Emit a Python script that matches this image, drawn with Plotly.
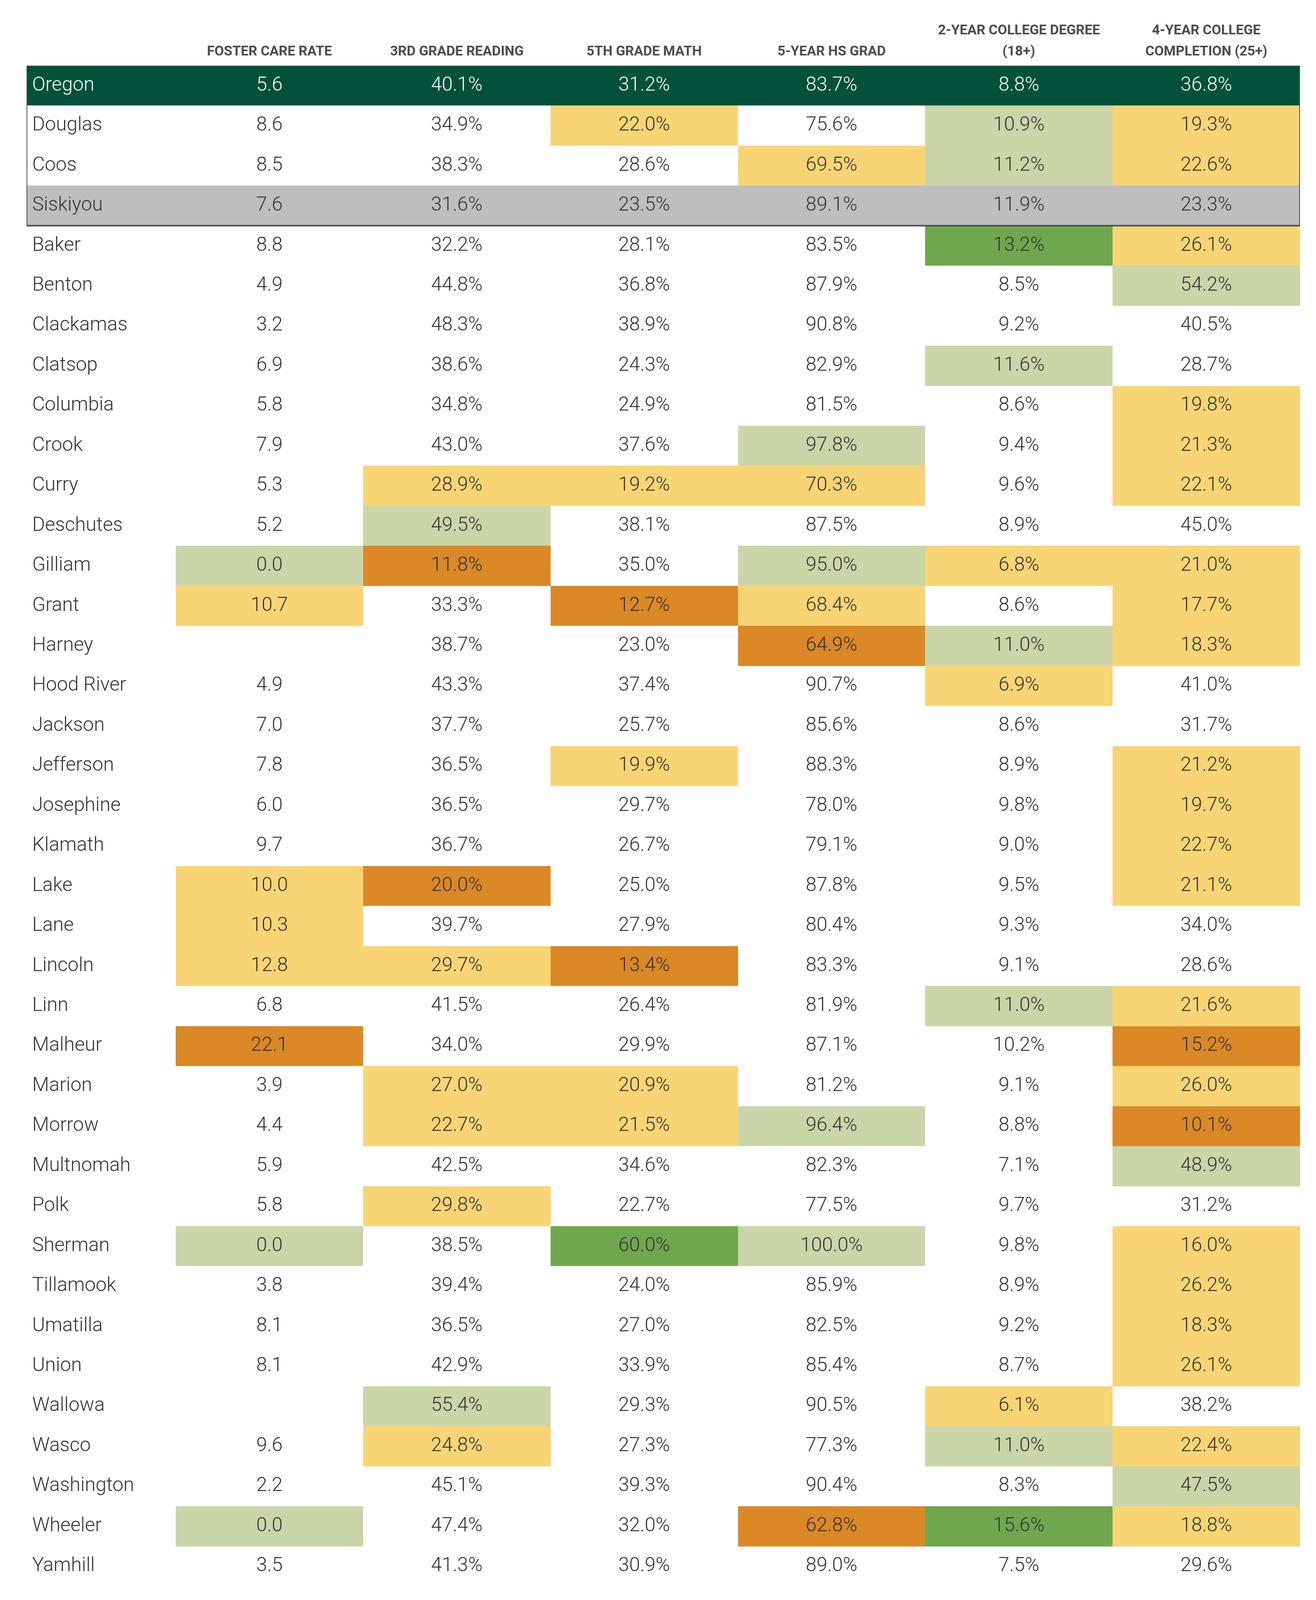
import plotly.graph_objects as go

# ---------------- data ----------------
counties = ["Oregon", "Douglas", "Coos", "Siskiyou", "Baker", "Benton", "Clackamas",
            "Clatsop", "Columbia", "Crook", "Curry", "Deschutes", "Gilliam", "Grant",
            "Harney", "Hood River", "Jackson", "Jefferson", "Josephine", "Klamath",
            "Lake", "Lane", "Lincoln", "Linn", "Malheur", "Marion", "Morrow",
            "Multnomah", "Polk", "Sherman", "Tillamook", "Umatilla", "Union",
            "Wallowa", "Wasco", "Washington", "Wheeler", "Yamhill"]

header_line1 = ["", "", "", "", "2-YEAR COLLEGE DEGREE", "4-YEAR COLLEGE"]
header_line2 = ["FOSTER CARE RATE", "3RD GRADE READING", "5TH GRADE MATH",
                "5-YEAR HS GRAD", "(18+)", "COMPLETION (25+)"]

foster = [5.6, 8.6, 8.5, 7.6, 8.8, 4.9, 3.2, 6.9, 5.8, 7.9, 5.3, 5.2, 0.0, 10.7,
          None, 4.9, 7.0, 7.8, 6.0, 9.7, 10.0, 10.3, 12.8, 6.8, 22.1, 3.9, 4.4,
          5.9, 5.8, 0.0, 3.8, 8.1, 8.1, None, 9.6, 2.2, 0.0, 3.5]
reading = [40.1, 34.9, 38.3, 31.6, 32.2, 44.8, 48.3, 38.6, 34.8, 43.0, 28.9, 49.5,
           11.8, 33.3, 38.7, 43.3, 37.7, 36.5, 36.5, 36.7, 20.0, 39.7, 29.7, 41.5,
           34.0, 27.0, 22.7, 42.5, 29.8, 38.5, 39.4, 36.5, 42.9, 55.4, 24.8, 45.1,
           47.4, 41.3]
math5 = [31.2, 22.0, 28.6, 23.5, 28.1, 36.8, 38.9, 24.3, 24.9, 37.6, 19.2, 38.1,
         35.0, 12.7, 23.0, 37.4, 25.7, 19.9, 29.7, 26.7, 25.0, 27.9, 13.4, 26.4,
         29.9, 20.9, 21.5, 34.6, 22.7, 60.0, 24.0, 27.0, 33.9, 29.3, 27.3, 39.3,
         32.0, 30.9]
hs_grad = [83.7, 75.6, 69.5, 89.1, 83.5, 87.9, 90.8, 82.9, 81.5, 97.8, 70.3, 87.5,
           95.0, 68.4, 64.9, 90.7, 85.6, 88.3, 78.0, 79.1, 87.8, 80.4, 83.3, 81.9,
           87.1, 81.2, 96.4, 82.3, 77.5, 100.0, 85.9, 82.5, 85.4, 90.5, 77.3, 90.4,
           62.8, 89.0]
two_year = [8.8, 10.9, 11.2, 11.9, 13.2, 8.5, 9.2, 11.6, 8.6, 9.4, 9.6, 8.9, 6.8,
            8.6, 11.0, 6.9, 8.6, 8.9, 9.8, 9.0, 9.5, 9.3, 9.1, 11.0, 10.2, 9.1, 8.8,
            7.1, 9.7, 9.8, 8.9, 9.2, 8.7, 6.1, 11.0, 8.3, 15.6, 7.5]
four_year = [36.8, 19.3, 22.6, 23.3, 26.1, 54.2, 40.5, 28.7, 19.8, 21.3, 22.1, 45.0,
             21.0, 17.7, 18.3, 41.0, 31.7, 21.2, 19.7, 22.7, 21.1, 34.0, 28.6, 21.6,
             15.2, 26.0, 10.1, 48.9, 31.2, 16.0, 26.2, 18.3, 26.1, 38.2, 22.4, 47.5,
             18.8, 29.6]

# cell shading classes: D state row, S peer row, W none, L light green,
# G green, Y yellow, O orange
foster_cls = ["D", "W", "W", "S",
              "W", "W", "W", "W", "W", "W", "W", "W", "L", "Y", "W", "W", "W",
              "W", "W", "W", "Y", "Y", "Y", "W", "O", "W", "W", "W", "W", "L",
              "W", "W", "W", "W", "W", "W", "L", "W"]
reading_cls = ["D", "W", "W", "S",
               "W", "W", "W", "W", "W", "W", "Y", "L", "O", "W", "W", "W", "W",
               "W", "W", "W", "O", "W", "Y", "W", "W", "Y", "Y", "W", "Y", "W",
               "W", "W", "W", "L", "Y", "W", "W", "W"]
math_cls = ["D", "Y", "W", "S",
            "W", "W", "W", "W", "W", "W", "Y", "W", "W", "O", "W", "W", "W",
            "Y", "W", "W", "W", "W", "O", "W", "W", "Y", "Y", "W", "W", "G",
            "W", "W", "W", "W", "W", "W", "W", "W"]
hs_cls = ["D", "W", "Y", "S",
          "W", "W", "W", "W", "W", "L", "Y", "W", "L", "Y", "O", "W", "W",
          "W", "W", "W", "W", "W", "W", "W", "W", "W", "L", "W", "W", "L",
          "W", "W", "W", "W", "W", "W", "O", "W"]
two_cls = ["D", "L", "L", "S",
           "G", "W", "W", "L", "W", "W", "W", "W", "Y", "W", "L", "Y", "W",
           "W", "W", "W", "W", "W", "W", "L", "W", "W", "W", "W", "W", "W",
           "W", "W", "W", "Y", "L", "W", "G", "W"]
four_cls = ["D", "Y", "Y", "S",
            "Y", "L", "W", "W", "Y", "Y", "Y", "W", "Y", "Y", "Y", "W", "W",
            "Y", "Y", "Y", "Y", "W", "W", "Y", "O", "Y", "O", "L", "W", "Y",
            "Y", "Y", "Y", "W", "Y", "L", "Y", "W"]

boxed_rows = 4  # Oregon + comparison counties framed together

# ---------------- styling ----------------
palette = {"W": "#FFFFFF", "L": "#CAD5A8", "G": "#6FA74E", "Y": "#F9D474",
           "O": "#DB8826", "D": "#02523B", "S": "#BDBEC0"}
codes = list(palette.keys())
TEXT_DARK = "#333333"
FONT = "Roboto"

columns = [foster, reading, math5, hs_grad, two_year, four_year]
col_cls = [foster_cls, reading_cls, math_cls, hs_cls, two_cls, four_cls]
suffix = ["", "%", "%", "%", "%", "%"]
for c in columns + col_cls:
    assert len(c) == len(counties)

n_rows = len(counties)
n_cols = len(columns)
name_w = 382 / 479.8
x_edges = [-name_w] + list(range(n_cols + 1))

name_cls = [c if c in ("D", "S") else "W" for c in foster_cls]

z = []
for r in range(n_rows):
    row = [codes.index(name_cls[r])]
    for ci in range(n_cols):
        row.append(codes.index(col_cls[ci][r]))
    z.append(row)

nc = len(codes)
colorscale = []
for k, code in enumerate(codes):
    colorscale.append([k / nc, palette[code]])
    colorscale.append([(k + 1) / nc, palette[code]])

fig = go.Figure()
fig.add_trace(go.Heatmap(
    z=z, x=x_edges, y=list(range(n_rows)),
    zmin=-0.5, zmax=nc - 0.5, colorscale=colorscale,
    showscale=False, hoverinfo="skip", xgap=0, ygap=0,
))

# value texts
tx, ty, tt, tc = [], [], [], []
for ci in range(n_cols):
    for r in range(n_rows):
        v = columns[ci][r]
        tx.append(ci + 0.5)
        ty.append(r)
        tt.append("" if v is None else f"{v:.1f}{suffix[ci]}")
        tc.append("#FFFFFF" if col_cls[ci][r] == "D" else TEXT_DARK)
fig.add_trace(go.Scatter(
    x=tx, y=ty, text=tt, mode="text", textposition="middle center",
    textfont=dict(family=FONT, size=50, color=tc, weight=300),
    hoverinfo="skip", showlegend=False,
))

# county names
fig.add_trace(go.Scatter(
    x=[-name_w + 0.03] * n_rows, y=list(range(n_rows)), text=counties,
    mode="text", textposition="middle right",
    textfont=dict(family=FONT, size=50, weight=300,
                  color=["#FFFFFF" if c == "D" else TEXT_DARK for c in name_cls]),
    hoverinfo="skip", showlegend=False,
))

# frame around state + comparison rows
fig.add_shape(type="rect", xref="x", yref="y",
              x0=x_edges[0], x1=x_edges[-1], y0=-0.5, y1=boxed_rows - 0.5,
              line=dict(color="#4D4D4D", width=4), fillcolor="rgba(0,0,0,0)",
              layer="above")

# headers
for ci in range(n_cols):
    for txt, shift in ((header_line1[ci], 92), (header_line2[ci], 38)):
        if txt:
            fig.add_annotation(
                x=ci + 0.5, xref="x", y=1, yref="paper", yshift=shift,
                text=txt, showarrow=False, xanchor="center", yanchor="middle",
                font=dict(family=FONT, size=35, color="#4D4D4D", weight=700),
            )

# sized so the page (with the browser's default 8px body margin) fits the
# 3370-wide, 4096-high visible viewport
fig.update_layout(
    width=3354, height=4078,
    margin=dict(l=60, r=33, t=160, b=25),
    paper_bgcolor="white", plot_bgcolor="white",
    showlegend=False,
    xaxis=dict(range=[x_edges[0], x_edges[-1]], visible=False, fixedrange=True),
    yaxis=dict(range=[n_rows - 0.5, -0.5], visible=False, fixedrange=True),
)

fig.write_html("out.html")
